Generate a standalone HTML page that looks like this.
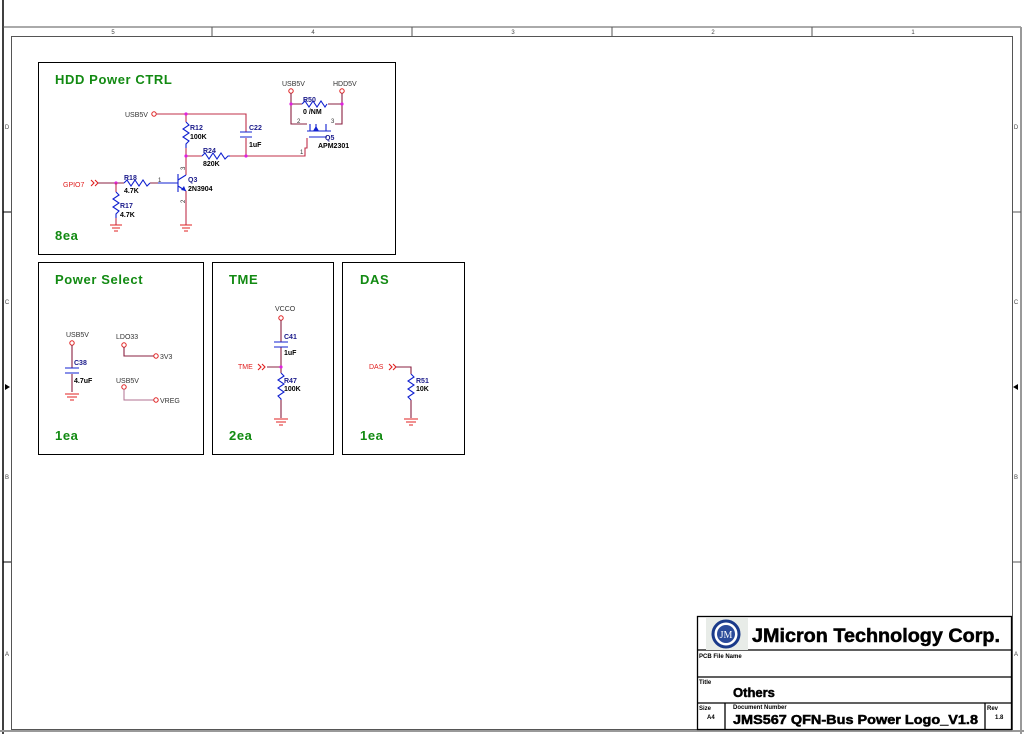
<!DOCTYPE html>
<html><head><meta charset="utf-8"><style>
html,body{margin:0;padding:0;background:#fff;}
svg{display:block;font-family:"Liberation Sans",sans-serif;}
.w{stroke:#c0304a;stroke-width:1.1;fill:none}
.dw{stroke:#8a2040;stroke-width:1.1;fill:none}
.r{stroke:#1020d0;stroke-width:1.1;fill:none}
.g{stroke:#e02020;stroke-width:1.1;fill:none}
.lbl{font-size:7px;fill:#333}
.bl{font-size:7px;fill:#000;font-weight:bold}
.ref{font-size:7px;fill:#1a1a8a;font-weight:bold}
.red{font-size:7px;fill:#e02020}
.ttl{font-size:13px;fill:#128a12;font-weight:bold;letter-spacing:0.6px}
.j{fill:#e020e0}
.oc{fill:#fff;stroke:#e02020;stroke-width:1}
.tb{font-weight:bold;stroke:#000;stroke-width:0.5}
</style></head><body>
<svg width="1024" height="734" viewBox="0 0 1024 734">
<rect width="1024" height="734" fill="#fff"/>
<line x1="3" y1="0" x2="3" y2="734" stroke="#000" stroke-width="1.5"/>
<line x1="3" y1="27" x2="1021" y2="27" stroke="#555" stroke-width="1"/>
<line x1="1021" y1="27" x2="1021" y2="734" stroke="#999" stroke-width="2"/>
<line x1="0" y1="731" x2="1024" y2="731" stroke="#999" stroke-width="2"/>
<rect x="11.5" y="36.5" width="1001" height="693" fill="none" stroke="#555"/>
<g stroke="#555"><line x1="212" y1="27" x2="212" y2="36"/><line x1="412" y1="27" x2="412" y2="36"/><line x1="612" y1="27" x2="612" y2="36"/><line x1="812" y1="27" x2="812" y2="36"/>
<line x1="3" y1="212" x2="11" y2="212" stroke="#000"/><line x1="3" y1="562" x2="11" y2="562" stroke="#000"/>
<line x1="1012" y1="212" x2="1021" y2="212"/><line x1="1012" y1="562" x2="1021" y2="562"/></g>
<path d="M5,384 L10,387 L5,390Z M1018,384 L1013,387 L1018,390Z" fill="#000"/>
<g font-size="6" fill="#444" text-anchor="middle"><text x="113" y="34">5</text><text x="313" y="34">4</text><text x="513" y="34">3</text><text x="713" y="34">2</text><text x="913" y="34">1</text>
<text x="7" y="129">D</text><text x="7" y="304">C</text><text x="7" y="479">B</text><text x="7" y="656">A</text>
<text x="1016" y="129">D</text><text x="1016" y="304">C</text><text x="1016" y="479">B</text><text x="1016" y="656">A</text></g>

<rect x="38.5" y="62.5" width="357" height="192" fill="none" stroke="#000"/>
<text x="55" y="84" class="ttl">HDD Power CTRL</text>
<text x="55" y="240" class="ttl">8ea</text>
<text x="125" y="117" class="lbl">USB5V</text>
<circle cx="154" cy="114" r="2.2" class="oc"/>
<path class="w" d="M156,114 H246 V132 M246,138 V156 M186,114 V122 M186,148 V175 M186,156 H202 M230,156 H305 V148 H307 V138"/>
<path class="r" d="M240,132 H252 M240,137 H252"/>
<path class="r" d="M186,122 l3,3 l-6,4 l6,4 l-6,4 l6,4 l-3,3 V148"/>
<path class="r" d="M202,156 l3,-3 l4,6 l4,-6 l4,6 l4,-6 l4,6 l3,-3 h2"/>
<text x="190" y="130" class="ref">R12</text><text x="190" y="139" class="bl">100K</text>
<text x="249" y="130" class="ref">C22</text><text x="249" y="147" class="bl">1uF</text>
<text x="203" y="153" class="ref">R24</text><text x="203" y="166" class="bl">820K</text>
<circle cx="186" cy="114" r="1.6" class="j"/><circle cx="186" cy="156" r="1.6" class="j"/><circle cx="246" cy="156" r="1.6" class="j"/>
<path class="r" d="M178,174 V192 M178,180 L186,175 M178,186 L186,191 M158,183 H178"/>
<path d="M186,191 L181,190 L184,186Z" fill="#1020d0"/>
<path class="w" d="M186,191 V225"/>
<text x="188" y="182" class="ref">Q3</text><text x="188" y="191" class="bl">2N3904</text>
<text x="181" y="170" font-size="6" fill="#333" transform="rotate(-90 183 168)">3</text>
<text x="181" y="203" font-size="6" fill="#333" transform="rotate(-90 183 201)">2</text>
<text x="158" y="182" font-size="6" fill="#333">1</text>
<text x="63" y="187" class="red">GPIO7</text>
<path class="g" d="M91,180 l3,3 l-3,3 M95,180 l3,3 l-3,3"/>
<path class="dw" d="M98,183 H124 M150,183 H158"/>
<path class="r" d="M124,183 l3,-3 l4,6 l4,-6 l4,6 l4,-6 l4,6 l3,-3"/>
<text x="124" y="180" class="ref">R18</text><text x="124" y="193" class="bl">4.7K</text>
<circle cx="116" cy="183" r="1.6" class="j"/>
<path class="w" d="M116,183 V192 M116,218 V225"/>
<path class="r" d="M116,192 l3,3 l-6,4 l6,4 l-6,4 l6,4 l-3,3 V218"/>
<text x="120" y="208" class="ref">R17</text><text x="120" y="217" class="bl">4.7K</text>
<g class="g"><path d="M110,225 H122 M112,228 H120 M114,231 H118"/><path d="M180,225 H192 M182,228 H190 M184,231 H188"/></g>
<text x="282" y="86" class="lbl">USB5V</text><text x="333" y="86" class="lbl">HDD5V</text>
<circle cx="291" cy="91" r="2.2" class="oc"/><circle cx="342" cy="91" r="2.2" class="oc"/>
<path class="dw" d="M291,93 V124 H307 M342,93 V124 H335 M291,104 H302 M328,104 H342"/>
<path class="r" d="M302,104 l3,-3 l4,6 l4,-6 l4,6 l4,-6 l4,6 l2,-3"/>
<path class="r" d="M310,124 V131 M326,124 V131 M307,131 H331 M309,137 H327 M316,131 V124"/>
<path d="M313,131 L316,126 L319,131Z" fill="#1020d0"/>
<circle cx="291" cy="104" r="1.6" class="j"/><circle cx="342" cy="104" r="1.6" class="j"/>
<text x="303" y="102" class="ref">R50</text><text x="303" y="114" class="bl">0 /NM</text>
<text x="297" y="123" font-size="6" fill="#333">2</text><text x="331" y="123" font-size="6" fill="#333">3</text>
<text x="325" y="140" class="ref">Q5</text><text x="318" y="148" class="bl">APM2301</text>
<text x="300" y="154" font-size="6" fill="#333">1</text>

<rect x="38.5" y="262.5" width="165" height="192" fill="none" stroke="#000"/>
<text x="55" y="284" class="ttl">Power Select</text>
<text x="55" y="440" class="ttl">1ea</text>
<text x="66" y="337" class="lbl">USB5V</text>
<circle cx="72" cy="343" r="2.2" class="oc"/>
<path class="dw" d="M72,345 V368 M72,374 V392"/>
<path class="r" d="M65,368 H79 M65,373 H79"/>
<text x="74" y="365" class="ref">C38</text><text x="74" y="383" class="bl">4.7uF</text>
<path class="g" d="M65,394 H79 M67,397 H77 M70,400 H74"/>
<text x="116" y="339" class="lbl">LDO33</text>
<circle cx="124" cy="345" r="2.2" class="oc"/>
<path class="dw" d="M124,347 V356 H154"/>
<circle cx="156" cy="356" r="2.2" class="oc"/><text x="160" y="359" class="lbl">3V3</text>
<text x="116" y="383" class="lbl">USB5V</text>
<circle cx="124" cy="387" r="2.2" class="oc"/>
<path d="M124,389 V400 H154" fill="none" stroke="#b07090"/>
<circle cx="156" cy="400" r="2.2" class="oc"/><text x="160" y="403" class="lbl">VREG</text>

<rect x="212.5" y="262.5" width="121" height="192" fill="none" stroke="#000"/>
<text x="229" y="284" class="ttl">TME</text>
<text x="229" y="440" class="ttl">2ea</text>
<text x="275" y="311" class="lbl">VCCO</text>
<circle cx="281" cy="318" r="2.2" class="oc"/>
<path class="dw" d="M281,320 V342 M281,347 V373 M267,367 H281 M281,400 V418"/>
<path class="r" d="M274,342 H288 M274,347 H288"/>
<path class="r" d="M281,373 l3,3 l-6,4 l6,4 l-6,4 l6,4 l-6,4 l3,3 V400"/>
<text x="284" y="339" class="ref">C41</text><text x="284" y="355" class="bl">1uF</text>
<text x="284" y="383" class="ref">R47</text><text x="284" y="391" class="bl">100K</text>
<text x="238" y="369" class="red">TME</text>
<path class="g" d="M258,364 l3,3 l-3,3 M262,364 l3,3 l-3,3"/>
<circle cx="281" cy="367" r="1.6" class="j"/>
<path class="g" d="M274,419 H288 M276,422 H286 M279,425 H283"/>

<rect x="342.5" y="262.5" width="122" height="192" fill="none" stroke="#000"/>
<text x="360" y="284" class="ttl">DAS</text>
<text x="360" y="440" class="ttl">1ea</text>
<text x="369" y="369" class="red">DAS</text>
<path class="g" d="M389,364 l3,3 l-3,3 M393,364 l3,3 l-3,3"/>
<path class="dw" d="M396,367 H411 V374 M411,400 V418"/>
<path class="r" d="M411,374 l3,3 l-6,4 l6,4 l-6,4 l6,4 l-6,4 l3,3"/>
<text x="416" y="383" class="ref">R51</text><text x="416" y="391" class="bl">10K</text>
<path class="g" d="M404,419 H418 M406,422 H416 M409,425 H413"/>

<g fill="none" stroke="#000" stroke-width="1.3">
<rect x="697.5" y="616.5" width="314" height="113"/>
<line x1="697" y1="650" x2="1012" y2="650"/>
<line x1="697" y1="677" x2="1012" y2="677"/>
<line x1="697" y1="703" x2="1012" y2="703"/>
<line x1="725" y1="703" x2="725" y2="730"/>
<line x1="985" y1="703" x2="985" y2="730"/>
</g>
<rect x="706" y="618" width="42" height="32" fill="#e8ece8"/>
<circle cx="726" cy="634" r="13" fill="#fff" stroke="#1a3a8a" stroke-width="3"/>
<circle cx="726" cy="634" r="9" fill="#2a4a9a"/>
<text x="726" y="638" font-size="10" fill="#fff" text-anchor="middle" font-family="Liberation Serif,serif">JM</text>
<text x="752" y="642" font-size="19" class="tb" textLength="248" lengthAdjust="spacingAndGlyphs">JMicron Technology Corp.</text>
<text x="699" y="658" font-size="6" font-weight="bold">PCB File Name</text>
<text x="699" y="684" font-size="6" font-weight="bold">Title</text>
<text x="733" y="697" font-size="13" class="tb">Others</text>
<text x="699" y="710" font-size="6" font-weight="bold">Size</text>
<text x="707" y="719" font-size="6" font-weight="bold">A4</text>
<text x="733" y="709" font-size="6" font-weight="bold">Document Number</text>
<text x="733" y="724" font-size="13" class="tb" textLength="245" lengthAdjust="spacingAndGlyphs">JMS567 QFN-Bus Power Logo_V1.8</text>
<text x="987" y="710" font-size="6" font-weight="bold">Rev</text>
<text x="995" y="719" font-size="6" font-weight="bold">1.8</text>
</svg>
</body></html>
